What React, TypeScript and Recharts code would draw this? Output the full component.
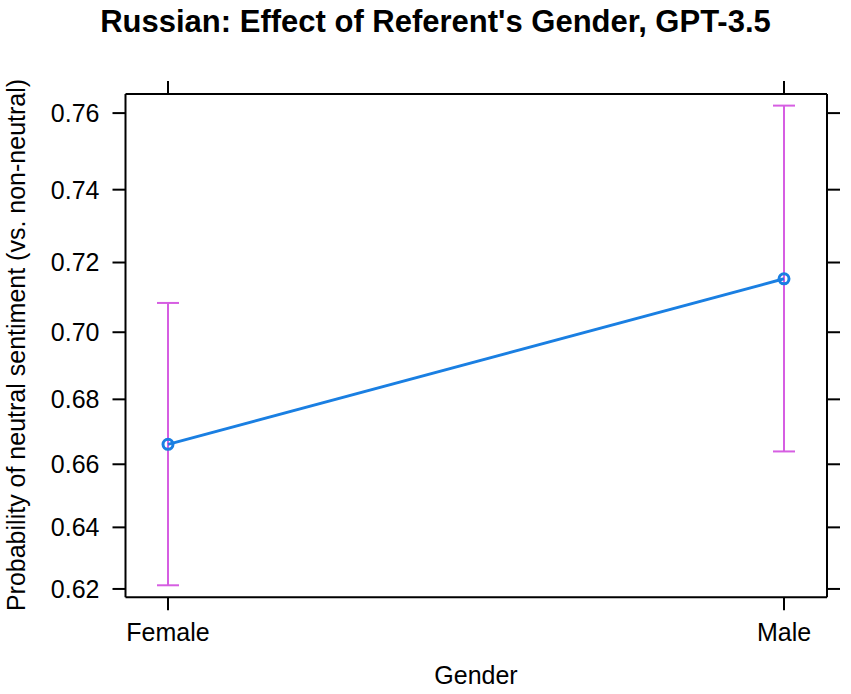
import React from 'react';
import { LineChart, Line, XAxis, YAxis, ErrorBar } from 'recharts';

const genders = ['Female', 'Male'];
const fitValues = [0.6662, 0.7154];
const lowerValues = [0.6212, 0.664];
const upperValues = [0.7085, 0.7619];
const tickProbs = [0.62, 0.64, 0.66, 0.68, 0.7, 0.72, 0.74, 0.76];

const logit = (p: number) => Math.log(p / (1 - p));
const invLogit = (v: number) => 1 / (1 + Math.exp(-v));

const data = genders.map((g, i) => ({
  gender: g,
  fit: logit(fitValues[i]),
  err: [logit(fitValues[i]) - logit(lowerValues[i]), logit(upperValues[i]) - logit(fitValues[i])],
}));

const yTicks = tickProbs.map(logit);
const yDomain: [number, number] = [0.4779, 1.1793];

const FONT = '"Liberation Sans", Arial, Helvetica, sans-serif';
const LINE_COLOR = '#1A7FE2';
const CI_COLOR = '#D65EE2';

export default function App() {
  return (
    <div style={{ position: 'absolute', left: 0, top: 0, width: 851, height: 694, background: '#fff' }}>
      <LineChart
        width={851}
        height={694}
        data={data}
        margin={{ top: 81, right: 11, bottom: 36.7, left: 25.5 }}
      >
        <XAxis
          xAxisId="bottom"
          dataKey="gender"
          orientation="bottom"
          height={60}
          padding={{ left: 42.5, right: 43 }}
          axisLine={{ stroke: '#000', strokeWidth: 2 }}
          tickLine={{ stroke: '#000', strokeWidth: 2 }}
          tickSize={13}
          tickMargin={13}
          tick={{ fill: '#000', fontSize: 25, fontFamily: FONT }}
          interval={0}
        />
        <XAxis
          xAxisId="top"
          dataKey="gender"
          orientation="top"
          height={13}
          padding={{ left: 42.5, right: 43 }}
          axisLine={{ stroke: '#000', strokeWidth: 2 }}
          tickLine={{ stroke: '#000', strokeWidth: 2 }}
          tickSize={13}
          tickFormatter={() => ''}
          interval={0}
        />
        <YAxis
          yAxisId="left"
          type="number"
          domain={yDomain}
          allowDataOverflow
          ticks={yTicks}
          interval={0}
          width={100}
          axisLine={{ stroke: '#000', strokeWidth: 2 }}
          tickLine={{ stroke: '#000', strokeWidth: 2 }}
          tickSize={13}
          tickMargin={13}
          tick={{ fill: '#000', fontSize: 25, fontFamily: FONT }}
          tickFormatter={(v: number) => invLogit(v).toFixed(2)}
        />
        <YAxis
          yAxisId="right"
          orientation="right"
          type="number"
          domain={yDomain}
          allowDataOverflow
          ticks={yTicks}
          interval={0}
          width={13}
          axisLine={{ stroke: '#000', strokeWidth: 2 }}
          tickLine={{ stroke: '#000', strokeWidth: 2 }}
          tickSize={13}
          tickFormatter={() => ''}
        />
        <Line
          xAxisId="bottom"
          yAxisId="left"
          type="linear"
          dataKey="fit"
          stroke={LINE_COLOR}
          strokeWidth={3}
          dot={{ r: 5, stroke: LINE_COLOR, strokeWidth: 3, fill: 'none' }}
          activeDot={false}
          isAnimationActive={false}
        >
          <ErrorBar dataKey="err" width={11} stroke={CI_COLOR} strokeWidth={2} direction="y" isAnimationActive={false} />
        </Line>
      </LineChart>
      <svg
        width={851}
        height={694}
        style={{ position: 'absolute', left: 0, top: 0, pointerEvents: 'none' }}
      >
        <text x={435.5} y={32} textAnchor="middle" fontFamily={FONT} fontWeight="bold" fontSize={31} fill="#000">
          Russian: Effect of Referent's Gender, GPT-3.5
        </text>
        <text x={476} y={684} textAnchor="middle" fontFamily={FONT} fontSize={25} fill="#000">
          Gender
        </text>
        <text
          x={0}
          y={0}
          transform="translate(25,345) rotate(-90)"
          textAnchor="middle"
          fontFamily={FONT}
          fontSize={25}
          fill="#000"
        >
          Probability of neutral sentiment (vs. non-neutral)
        </text>
      </svg>
    </div>
  );
}
